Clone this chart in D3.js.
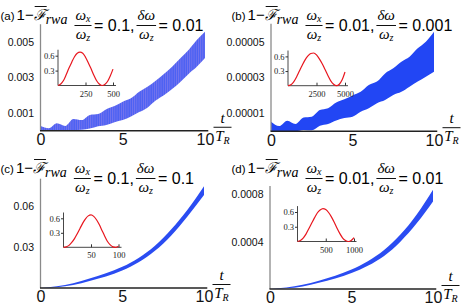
<!DOCTYPE html>
<html><head><meta charset="utf-8">
<script src="https://cdn.jsdelivr.net/npm/d3@7"></script>
<style>body{margin:0;background:#fff}svg{display:block}</style>
</head><body>
<svg id="chart" width="463" height="306"></svg>
<script>
// ---------------- DATA ----------------
const panelLabels = ["(a)", "(b)", "(c)", "(d)"];
const ratioWx = ["0.1,", "0.01,", "0.1,", "0.01,"];
const ratioDw = ["0.01", "0.001", "0.1", "0.01"];

const xTicks = [0, 5, 10];
const xTickLabels = ["0", "5", "10"];

// time samples (t / T_R)
const tAB = [0,0.5,1,1.5,2,2.5,3,3.5,4,4.5,5,5.5,6,6.5,7,7.5,8,8.5,9,9.5,10];
const tCD = [0,1,2,3,4,5,6,7,8,9,10];

// panel (a) envelope
const aUpper = [0.00027,0.00014,0.00042,0.00027,0.00066,0.00060,0.00089,0.00094,0.00121,0.00139,0.00164,0.00183,0.00220,0.00248,0.00282,0.00320,0.00361,0.00408,0.00455,0.00511,0.00558];
const aLower = [0,0,0,0,0.00002,0.00005,0.00012,0.00025,0.00032,0.00048,0.00060,0.00080,0.00105,0.00130,0.00170,0.00200,0.00235,0.00275,0.00320,0.00360,0.00410];
const aYTicks = [0.001, 0.003, 0.005];
const aYTickLabels = ["0.001", "0.003", "0.005"];

// panel (b) envelope
const bUpper = [0.0000053,0.0000029,0.0000059,0.0000040,0.0000076,0.0000081,0.0000118,0.0000128,0.0000160,0.0000178,0.0000200,0.0000220,0.0000258,0.0000277,0.0000323,0.0000351,0.0000388,0.0000416,0.0000463,0.0000500,0.0000556];
const bLower = [0,0,0,0,0.0000007,0.0000005,0.0000030,0.0000040,0.0000060,0.0000074,0.0000081,0.0000109,0.0000128,0.0000156,0.0000174,0.0000202,0.0000220,0.0000249,0.0000277,0.0000304,0.0000332];
const bYTicks = [0.00001, 0.00003, 0.00005];
const bYTickLabels = ["0.00001", "0.00003", "0.00005"];

// panel (c) band
const cUpper = [0,0.0012,0.0035,0.0070,0.0108,0.0155,0.0220,0.0310,0.0430,0.0575,0.0745];
const cLower = [0,0.0006,0.0022,0.0052,0.0085,0.0128,0.0188,0.0272,0.0385,0.0525,0.0680];
const cYTicks = [0.03, 0.06];
const cYTickLabels = ["0.03", "0.06"];

// panel (d) band
const dUpper = [0,0.000012,0.000035,0.000070,0.000112,0.000165,0.000235,0.000330,0.000460,0.000630,0.000840];
const dLower = [0,0.000006,0.000022,0.000052,0.000088,0.000135,0.000197,0.000280,0.000400,0.000555,0.000740];
const dYTicks = [0.0004, 0.0008];
const dYTickLabels = ["0.0004", "0.0008"];

// insets
const insetYTicks = [0.3, 0.6];
const insetYTickLabels = ["0.3", "0.6"];

const insetAT = [0,25,50,75,100,125,150,175,200,225,250,275,300,325,350,375,400,425,450,475,500];
const insetAV = [0,0.03,0.10,0.22,0.35,0.47,0.58,0.65,0.67,0.65,0.57,0.46,0.34,0.21,0.10,0.03,0.0,0.02,0.08,0.19,0.33];
const insetAXTicks = [250, 500];
const insetAXTickLabels = ["250", "500"];

const insetBT = [0,250,500,750,1000,1250,1500,1750,2000,2250,2500,2750,3000,3250,3500,3750,4000,4250,4500,4750,5000];
const insetBV = [0,0.02,0.08,0.18,0.30,0.42,0.53,0.61,0.66,0.67,0.63,0.55,0.45,0.33,0.21,0.10,0.03,0.0,0.03,0.12,0.28];
const insetBXTicks = [2500, 5000];
const insetBXTickLabels = ["2500", "5000"];

const insetCT = [0,5,10,15,20,25,30,35,40,45,50,55,60,65,70,75,80,85,90,95,100];
const insetCV = [0,0.01,0.04,0.10,0.18,0.28,0.39,0.50,0.59,0.65,0.67,0.64,0.57,0.47,0.35,0.23,0.12,0.05,0.01,0.0,0.02];
const insetCXTicks = [50, 100];
const insetCXTickLabels = ["50", "100"];

const insetDT = [0,50,100,150,200,250,300,350,400,450,500,550,600,650,700,750,800,850,900,950,1000];
const insetDV = [0,0.02,0.07,0.15,0.26,0.37,0.48,0.58,0.64,0.67,0.65,0.59,0.50,0.39,0.27,0.16,0.07,0.02,0.0,0.02,0.08];
const insetDXTicks = [500, 1000];
const insetDXTickLabels = ["500", "1000"];

// ---------------- LAYOUT ----------------
const svg = d3.select("#chart");
const defs = svg.append("defs");
const pat = defs.append("pattern").attr("id","stripes").attr("patternUnits","userSpaceOnUse")
  .attr("width",2.2).attr("height",10);
pat.append("rect").attr("width",2.2).attr("height",10).attr("fill","#4a60f3");
pat.append("rect").attr("width",0.9).attr("height",10).attr("fill","#9a86e6").attr("opacity",0.55);

const panels = [
  {ox:0, oy:0, xr:[40.5,205], yd:[0,0.006], yr:[130.75,24.25], t:tAB, up:aUpper, lo:aLower, yt:aYTicks, ytl:aYTickLabels, fill:"url(#stripes)",
   inset:{t:insetAT, v:insetAV, xd:[0,500], xr:[58,113], yr:[85.5,55.7], xt:insetAXTicks, xtl:insetAXTickLabels, xEnd:116}},
  {ox:231, oy:0, xr:[271,434], yd:[0,0.00006], yr:[131.2,23.8], t:tAB, up:bUpper, lo:bLower, yt:bYTicks, ytl:bYTickLabels, fill:"#2246f4",
   inset:{t:insetBT, v:insetBV, xd:[0,5000], xr:[288,345], yr:[85.7,56.4], xt:insetBXTicks, xtl:insetBXTickLabels, xEnd:348}},
  {ox:0, oy:153, xr:[40.5,204], yd:[0,0.08], yr:[288,178.7], t:tCD, up:cUpper, lo:cLower, yt:cYTicks, ytl:cYTickLabels, fill:"#2a4cf2",
   inset:{t:insetCT, v:insetCV, xd:[0,100], xr:[63.5,118.5], yr:[247.3,218.3], xt:insetCXTicks, xtl:insetCXTickLabels, xEnd:121.5}},
  {ox:231, oy:153, xr:[270,433], yd:[0,0.00087], yr:[289,186.1], t:tCD, up:dUpper, lo:dLower, yt:dYTicks, ytl:dYTickLabels, fill:"#2a4cf2",
   inset:{t:insetDT, v:insetDV, xd:[0,1000], xr:[297.5,354], yr:[241.5,212], xt:insetDXTicks, xtl:insetDXTickLabels, xEnd:356.5}}
];

const sans = '"Liberation Sans", Arial, sans-serif';
const serif = '"Liberation Serif", "Times New Roman", serif';

function textW(sel){ return sel.node().getComputedTextLength(); }

panels.forEach((p, i) => {
  const g = svg.append("g");
  const x = d3.scaleLinear().domain([0,10]).range(p.xr);
  const y = d3.scaleLinear().domain(p.yd).range(p.yr);

  // band
  const area = d3.area().x((d,j)=>x(p.t[j])).y0((d,j)=>y(p.lo[j])).y1((d,j)=>y(p.up[j])).curve(d3.curveMonotoneX);
  g.append("path").datum(p.up).attr("d", area).attr("fill", p.fill);

  // y axis
  const ya = d3.axisLeft(y).tickValues(p.yt).tickFormat((d,j)=>p.ytl[j]).tickSize(0).tickPadding(6.5);
  const yg = g.append("g").attr("transform",`translate(${x(0)},0)`).call(ya);
  yg.select(".domain").remove();
  yg.selectAll("text").style("font", "10.5px " + sans).attr("fill","#111");
  g.append("line").attr("x1",x(0)).attr("x2",x(0)).attr("y1",y(p.yd[0])).attr("y2",y(p.yd[1]))
    .attr("stroke","#8a8a8a").attr("stroke-width",1.3);

  // x axis
  const xa = d3.axisBottom(x).tickValues(xTicks).tickFormat((d,j)=>xTickLabels[j]).tickSize(0).tickPadding(3);
  const xg = g.append("g").attr("transform",`translate(0,${y(0)})`).call(xa);
  xg.select(".domain").remove();
  xg.selectAll("text").style("font", "16px " + sans).attr("fill","#111");
  g.append("line").attr("x1",x(0)-0.5).attr("x2",x(10.2)).attr("y1",y(0)).attr("y2",y(0))
    .attr("stroke","#222").attr("stroke-width",1.4);

  // t / T_R label
  const fx = x(10) + 17.5, ay = y(0);
  g.append("text").attr("x",fx).attr("y",ay-8).attr("text-anchor","middle")
    .style("font","italic 15px " + serif).text("t");
  g.append("line").attr("x1",fx-9).attr("x2",fx+9).attr("y1",ay-3.5).attr("y2",ay-3.5).attr("stroke","#111").attr("stroke-width",1);
  const tr = g.append("text").attr("x",fx).attr("y",ay+10).attr("text-anchor","middle").style("font","italic 15px " + serif);
  tr.append("tspan").text("T");
  tr.append("tspan").attr("dy",3).style("font-size","10px").text("R");

  // inset
  const ins = p.inset;
  const ix = d3.scaleLinear().domain(ins.xd).range(ins.xr);
  const iy = d3.scaleLinear().domain([0,0.6]).range([ins.yr[0], ins.yr[1]]);
  g.append("line").attr("x1",ix(0)).attr("x2",ix(0)).attr("y1",iy(0)).attr("y2",iy(0.72)).attr("stroke","#333").attr("stroke-width",0.9);
  g.append("line").attr("x1",ix(0)).attr("x2",ins.xEnd).attr("y1",iy(0)).attr("y2",iy(0)).attr("stroke","#333").attr("stroke-width",0.9);
  const iya = d3.axisLeft(iy).tickValues(insetYTicks).tickFormat((d,j)=>insetYTickLabels[j]).tickSize(2.5).tickPadding(1);
  const iyg = g.append("g").attr("transform",`translate(${ix(0)},0)`).call(iya);
  iyg.select(".domain").remove();
  iyg.selectAll("line").attr("stroke","#333");
  iyg.selectAll("text").style("font","8.5px " + serif).attr("fill","#222");
  const ixa = d3.axisBottom(ix).tickValues(ins.xt).tickFormat((d,j)=>ins.xtl[j]).tickSize(-3).tickPadding(5);
  const ixg = g.append("g").attr("transform",`translate(0,${iy(0)})`).call(ixa);
  ixg.select(".domain").remove();
  ixg.selectAll("line").attr("stroke","#333");
  ixg.selectAll("text").style("font","8.5px " + serif).attr("fill","#222");
  const line = d3.line().x((d,j)=>ix(ins.t[j])).y(d=>iy(d)).curve(d3.curveMonotoneX);
  g.append("path").datum(ins.v).attr("d", line).attr("fill","none").attr("stroke","#e8161e").attr("stroke-width",1.2);

  // title
  const oy = p.oy;
  let cx = p.ox + 0.5;
  const lab = g.append("text").attr("x",cx).attr("y",oy+19.5).style("font","11.5px " + sans).text(panelLabels[i]);
  cx += textW(lab) + 2;
  const one = g.append("text").attr("x",cx).attr("y",oy+20).style("font","15px " + sans).text("1\u2212");
  cx += textW(one);
  const F = g.append("text").attr("x",cx).attr("y",oy+20).style("font","italic 15px " + serif).text("\u2131");
  const fw = textW(F);
  g.append("line").attr("x1",cx+1).attr("x2",cx+fw+1).attr("y1",oy+6.5).attr("y2",oy+6.5).attr("stroke","#111").attr("stroke-width",1);
  cx += fw;
  const rwa = g.append("text").attr("x",cx).attr("y",oy+23.5).style("font","italic 14px " + serif).text("rwa");
  cx += textW(rwa) + 7;

  function frac(numMain, numSub, denMain, denSub) {
    const num = g.append("text").attr("y",oy+20).style("font","italic 15px " + serif);
    num.append("tspan").text(numMain);
    if (numSub) num.append("tspan").attr("dy",2).style("font-size","10px").text(numSub);
    const den = g.append("text").attr("y",oy+38.5).style("font","italic 15px " + serif);
    den.append("tspan").text(denMain);
    den.append("tspan").attr("dy",2).style("font-size","10px").text(denSub);
    const w = Math.max(num.node().getComputedTextLength(), den.node().getComputedTextLength()) + 2;
    num.attr("x", cx + w/2).attr("text-anchor","middle");
    den.attr("x", cx + w/2).attr("text-anchor","middle");
    g.append("line").attr("x1",cx).attr("x2",cx+w).attr("y1",oy+25.5).attr("y2",oy+25.5).attr("stroke","#111").attr("stroke-width",1);
    cx += w;
  }
  frac("\u03C9", "x", "\u03C9", "z");
  cx += 2.5;
  const eq1 = g.append("text").attr("x",cx).attr("y",oy+31).style("font","16px " + sans).text("= " + ratioWx[i]);
  cx += textW(eq1) + 2;
  frac("\u03B4\u03C9", null, "\u03C9", "z");
  cx += 2.5;
  g.append("text").attr("x",cx).attr("y",oy+31).style("font","16px " + sans).text("= " + ratioDw[i]);
});
</script>
</body></html>
